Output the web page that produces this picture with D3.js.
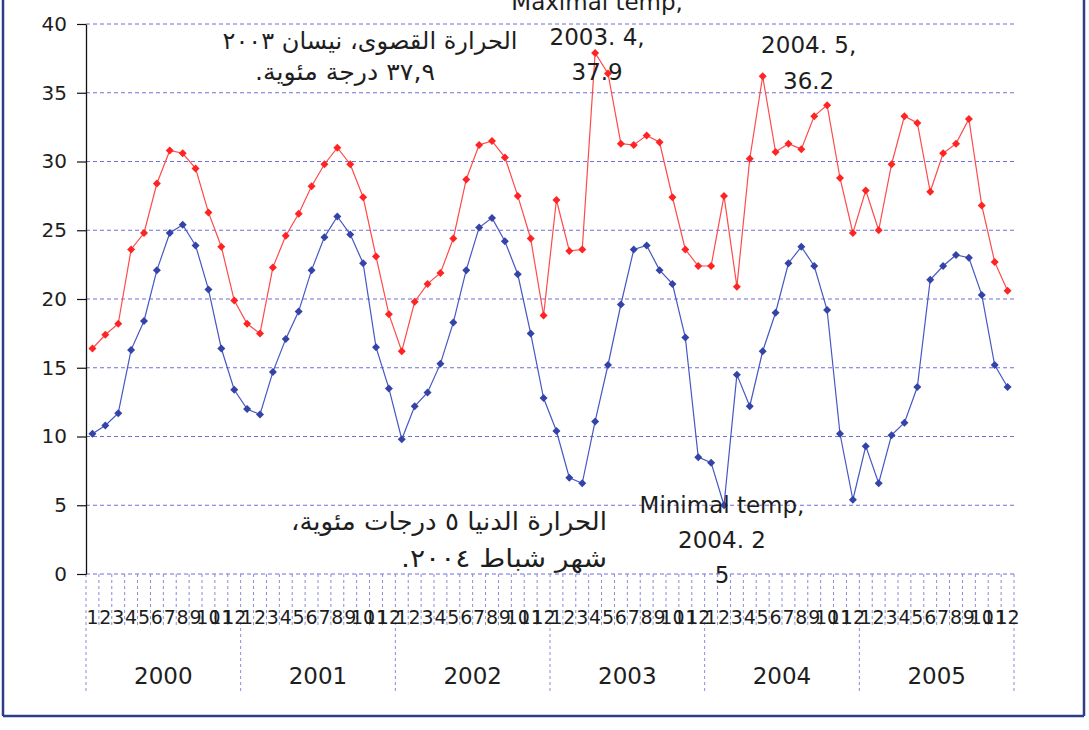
<!DOCTYPE html>
<html>
<head>
<meta charset="utf-8">
<script src="https://cdn.jsdelivr.net/npm/d3@7"></script>
<style>
  html, body { margin: 0; padding: 0; background: #fff; }
  svg { display: block; }
  text { font-family: "DejaVu Sans", "Liberation Sans", Arial, sans-serif; fill: #1e1e1e; }
  .ar { direction: rtl; unicode-bidi: embed; }
</style>
</head>
<body>
<script>
// ---------------- data ----------------
const years = ["2000", "2001", "2002", "2003", "2004", "2005"];
const monthLabels = ["1","2","3","4","5","6","7","8","9","10","11","12"];

const maxTemp = [
  16.4, 17.4, 18.2, 23.6, 24.8, 28.4, 30.8, 30.6, 29.5, 26.3, 23.8, 19.9,
  18.2, 17.5, 22.3, 24.6, 26.2, 28.2, 29.8, 31.0, 29.8, 27.4, 23.1, 18.9,
  16.2, 19.8, 21.1, 21.9, 24.4, 28.7, 31.2, 31.5, 30.3, 27.5, 24.4, 18.8,
  27.2, 23.5, 23.6, 37.9, 36.4, 31.3, 31.2, 31.9, 31.4, 27.4, 23.6, 22.4,
  22.4, 27.5, 20.9, 30.2, 36.2, 30.7, 31.3, 30.9, 33.3, 34.1, 28.8, 24.8,
  27.9, 25.0, 29.8, 33.3, 32.8, 27.8, 30.6, 31.3, 33.1, 26.8, 22.7, 20.6
];
const minTemp = [
  10.2, 10.8, 11.7, 16.3, 18.4, 22.1, 24.8, 25.4, 23.9, 20.7, 16.4, 13.4,
  12.0, 11.6, 14.7, 17.1, 19.1, 22.1, 24.5, 26.0, 24.7, 22.6, 16.5, 13.5,
   9.8, 12.2, 13.2, 15.3, 18.3, 22.1, 25.2, 25.9, 24.2, 21.8, 17.5, 12.8,
  10.4,  7.0,  6.6, 11.1, 15.2, 19.6, 23.6, 23.9, 22.1, 21.1, 17.2,  8.5,
   8.1,  5.0, 14.5, 12.2, 16.2, 19.0, 22.6, 23.8, 22.4, 19.2, 10.2,  5.4,
   9.3,  6.6, 10.1, 11.0, 13.6, 21.4, 22.4, 23.2, 23.0, 20.3, 15.2, 13.6
];
const yTicks = [0, 5, 10, 15, 20, 25, 30, 35, 40];

// annotations
const maxNote = { idx: 39, lines: ["Maximal temp,", "2003. 4,", "37.9"] };
const maxNote2 = { idx: 52, lines: ["2004. 5,", "36.2"] };
const minNote = { idx: 49, lines: ["Minimal temp,", "2004. 2", "5"] };
const arabicMax = ["الحرارة القصوى، نيسان ٢٠٠٣", "٣٧,٩ درجة مئوية."];
const arabicMin = ["الحرارة الدنيا ٥ درجات مئوية،", "شهر شباط ٢٠٠٤."];

// ---------------- layout ----------------
const W = 1089, H = 730;
const svg = d3.select("body").append("svg").attr("width", W).attr("height", H);
svg.append("rect").attr("width", W).attr("height", H).attr("fill", "#fff");

const pLeft = 86, pRight = 1014, pTop = 24, pBottom = 574;
const idx = d3.range(maxTemp.length);
const x = d3.scaleBand().domain(idx).range([pLeft, pRight]).padding(0);
const cx = i => x(i) + x.bandwidth() / 2;
const y = d3.scaleLinear().domain([0, 40]).range([pBottom, pTop]);

const gridColor = "#6f6fd6";

// horizontal grid lines
svg.append("g").selectAll("line").data(yTicks).join("line")
  .attr("x1", pLeft).attr("x2", pRight + 2)
  .attr("y1", d => y(d)).attr("y2", d => y(d))
  .attr("stroke", gridColor).attr("stroke-width", 1)
  .attr("stroke-dasharray", "4,3");

// category boundary lines (months & years)
const bounds = d3.range(maxTemp.length + 1);
const bx = b => (b < maxTemp.length ? x(b) : x(b - 1) + x.bandwidth());
svg.append("g").selectAll("line").data(bounds).join("line")
  .attr("x1", bx).attr("x2", bx)
  .attr("y1", pBottom).attr("y2", d => (d % 12 === 0 ? 692 : 626))
  .attr("stroke", "#8a8ad8").attr("stroke-width", 1)
  .attr("stroke-dasharray", "3,3");

// y axis
const yAxis = d3.axisLeft(y).tickValues(yTicks).tickSize(9).tickSizeOuter(0).tickPadding(10);
const gy = svg.append("g").attr("transform", `translate(${pLeft},0)`).call(yAxis);
gy.select(".domain").attr("stroke", "#111").attr("stroke-width", 1.3);
gy.selectAll(".tick line").attr("stroke", "#111").attr("stroke-width", 1.2);
gy.selectAll(".tick text").style("font-size", "20px").attr("fill", "#1e1e1e")
  .attr("font-family", "DejaVu Sans");

// month labels
const xAxis = d3.axisBottom(x).tickSize(0).tickPadding(0)
  .tickFormat(i => monthLabels[i % 12]);
const gx = svg.append("g").attr("transform", `translate(0,${pBottom})`).call(xAxis);
gx.select(".domain").remove();
gx.selectAll(".tick text").style("font-size", "19px").attr("dy", null).attr("y", 50)
  .attr("font-family", "DejaVu Sans").attr("fill", "#1e1e1e");

// year labels
const yearX = d3.scaleBand().domain(years).range([pLeft, pRight]);
svg.append("g").selectAll("text").data(years).join("text")
  .attr("x", d => yearX(d) + yearX.bandwidth() / 2)
  .attr("y", 684)
  .attr("text-anchor", "middle")
  .style("font-size", "23px")
  .text(d => d);

// series
const line = d3.line().x((d, i) => cx(i)).y(d => y(d));
function drawSeries(data, lineColor, markColor) {
  svg.append("path").datum(data)
    .attr("d", line).attr("fill", "none")
    .attr("stroke", lineColor).attr("stroke-width", 1.2);
  svg.append("g").selectAll("path").data(data).join("path")
    .attr("d", d3.symbol(d3.symbolSquare, 32)())
    .attr("transform", (d, i) => `translate(${cx(i)},${y(d)}) rotate(45)`)
    .attr("fill", markColor);
}
drawSeries(minTemp, "#4657c4", "#3343a8");
drawSeries(maxTemp, "#ff4a4a", "#ff2424");

// annotations
function note(lines, xc, y0, dy, size) {
  svg.append("g").selectAll("text").data(lines).join("text")
    .attr("x", xc).attr("y", (d, i) => y0 + i * dy)
    .attr("text-anchor", "middle")
    .style("font-size", size + "px")
    .text(d => d);
}
note(maxNote.lines, cx(maxNote.idx) + 2, 10, 35, 23);
note(maxNote2.lines, cx(maxNote2.idx) + 46, 53, 36, 23);
note(minNote.lines, cx(minNote.idx) - 2, 513, 35, 23);

// Arabic notes (right-to-left)
function arNote(txt, xc, yb, size, len) {
  svg.append("text").attr("class", "ar")
    .attr("x", xc).attr("y", yb).attr("text-anchor", "middle")
    .attr("textLength", len).attr("lengthAdjust", "spacingAndGlyphs")
    .style("font-size", size + "px").text(txt);
}
arNote(arabicMax[0], 370, 49, 24, 295);
arNote(arabicMax[1], 345, 80, 24, 180);
arNote(arabicMin[0], 449, 530, 25, 316);
arNote(arabicMin[1], 504, 567, 25, 206);

// outer frame (left, right, bottom)
const frame = "#2f3c8c";
svg.append("line").attr("x1", 3).attr("x2", 3).attr("y1", 0).attr("y2", 716)
  .attr("stroke", frame).attr("stroke-width", 2.5);
svg.append("line").attr("x1", 1084).attr("x2", 1084).attr("y1", 0).attr("y2", 716)
  .attr("stroke", frame).attr("stroke-width", 2.5);
svg.append("line").attr("x1", 3).attr("x2", 1084).attr("y1", 716).attr("y2", 716)
  .attr("stroke", frame).attr("stroke-width", 2.5);
</script>
</body>
</html>
